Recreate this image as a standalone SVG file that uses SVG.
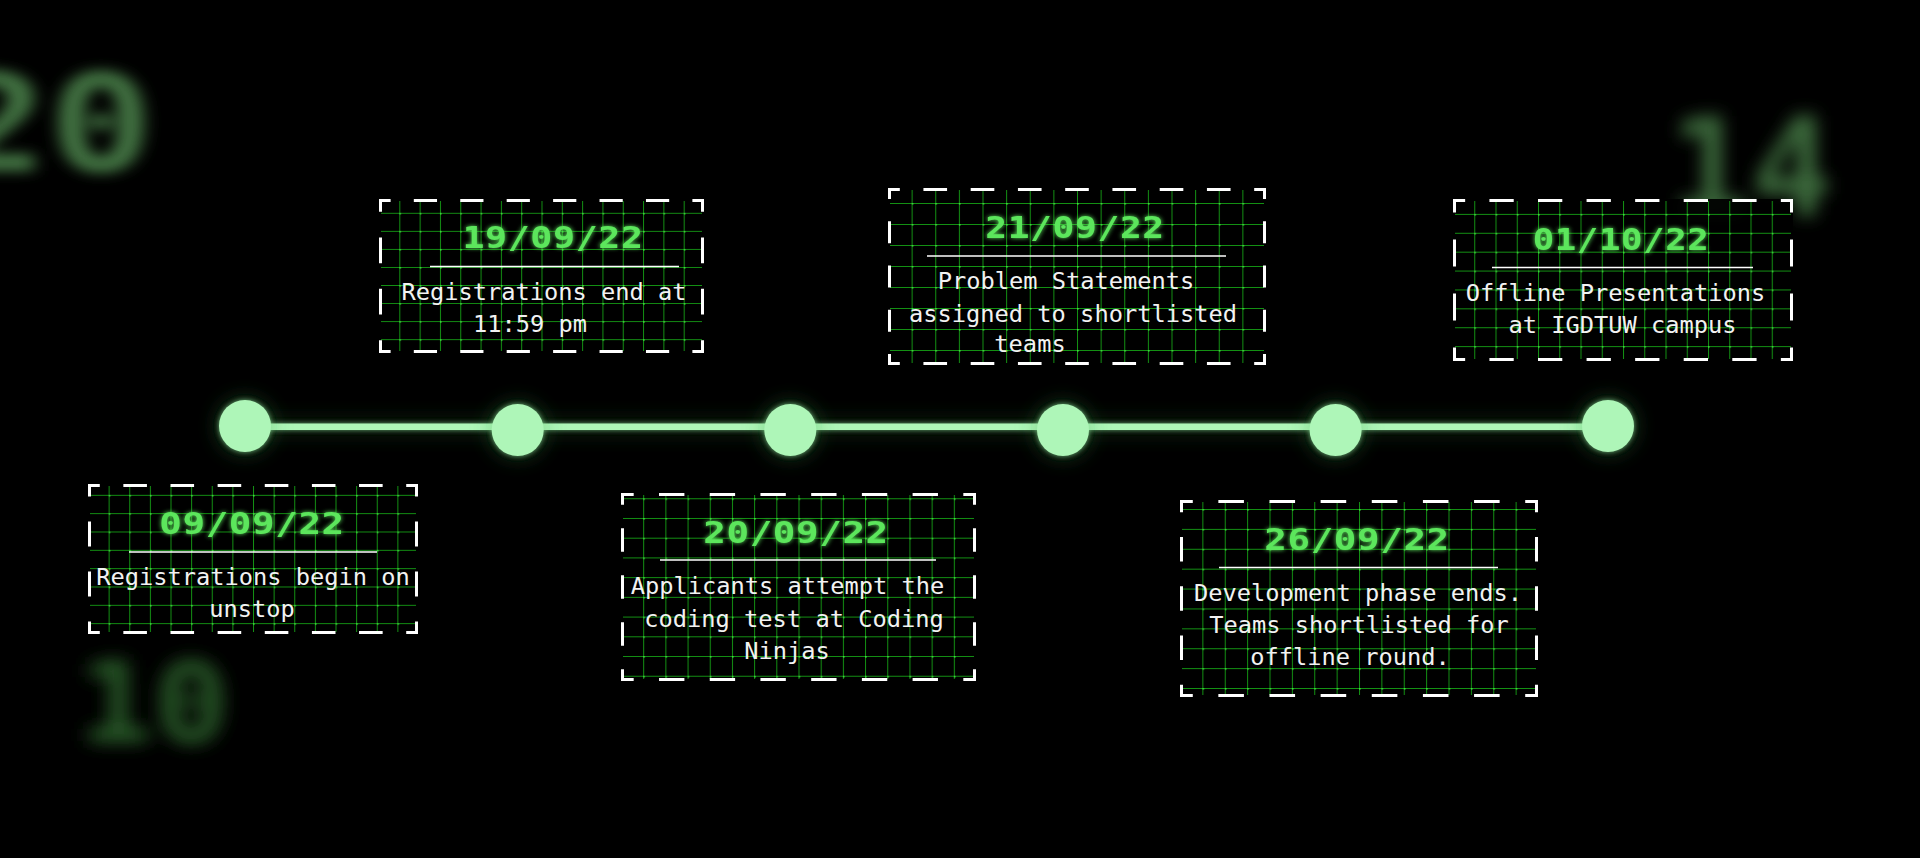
<svg xmlns="http://www.w3.org/2000/svg" width="1920" height="858" viewBox="0 0 1920 858">
  <style>
    .card-bg { fill: #000; fill-opacity: 0.93; }
    .edge { stroke: #fff; stroke-width: 3; fill: none; }
    .date { font-family: "DejaVu Sans Mono", "Liberation Mono", monospace; font-weight: bold; font-size: 30px; fill: #5ce65c; text-anchor: middle; letter-spacing: 0.5px; }
    .body { font-family: "DejaVu Sans Mono", "Liberation Mono", monospace; font-size: 23.7px; fill: #f2f2f2; text-anchor: middle; }
    .rule { stroke: #fff; stroke-width: 1.4; }
    .dot { fill: #aef6b8; }
    .track { stroke: #aef6b8; stroke-width: 6.5; }
    .grid-line { stroke: #139013; stroke-width: 1; fill: none; }
    .grid-knot { fill: #3ee03e; }
    .ghost { font-family: "DejaVu Sans Mono", monospace; font-weight: bold; }
  </style>
  <defs>
    <filter id="haze" x="-30%" y="-30%" width="160%" height="160%">
      <feGaussianBlur stdDeviation="6.5"/>
    </filter>
    <filter id="hazeWide" x="-30%" y="-30%" width="160%" height="160%">
      <feGaussianBlur stdDeviation="8.5"/>
    </filter>
    <filter id="dateGlow" x="-20%" y="-50%" width="140%" height="200%">
      <feGaussianBlur in="SourceGraphic" stdDeviation="2.2" result="b"/>
      <feMerge><feMergeNode in="b"/><feMergeNode in="SourceGraphic"/></feMerge>
    </filter>
    <filter id="nodeGlow" filterUnits="userSpaceOnUse" x="0" y="0" width="1920" height="858">
      <feGaussianBlur in="SourceAlpha" stdDeviation="11" result="wide"/>
      <feFlood flood-color="#3f9f4a" flood-opacity="0.45" result="c1"/>
      <feComposite in="c1" in2="wide" operator="in" result="halo"/>
      <feGaussianBlur in="SourceAlpha" stdDeviation="2.5" result="tight"/>
      <feFlood flood-color="#8ee89a" flood-opacity="0.7" result="c2"/>
      <feComposite in="c2" in2="tight" operator="in" result="rim"/>
      <feMerge><feMergeNode in="halo"/><feMergeNode in="rim"/><feMergeNode in="SourceGraphic"/></feMerge>
    </filter>

    <!-- card grids: 16 columns, cell aspect 1.125, centred vertically -->
    <pattern id="grid1" patternUnits="userSpaceOnUse" x="88" y="549.833" width="20.625" height="18.333">
      <path class="grid-line" d="M0 0.5H20.625M0.5 0V18.333"/><rect class="grid-knot" width="1.6" height="1.6"/>
    </pattern>
    <pattern id="grid2" patternUnits="userSpaceOnUse" x="379" y="266.97" width="20.3125" height="18.056">
      <path class="grid-line" d="M0 0.5H20.3125M0.5 0V18.056"/><rect class="grid-knot" width="1.6" height="1.6"/>
    </pattern>
    <pattern id="grid3" patternUnits="userSpaceOnUse" x="621" y="577.14" width="22.1875" height="19.722">
      <path class="grid-line" d="M0 0.5H22.1875M0.5 0V19.722"/><rect class="grid-knot" width="1.6" height="1.6"/>
    </pattern>
    <pattern id="grid4" patternUnits="userSpaceOnUse" x="888" y="266" width="23.625" height="21">
      <path class="grid-line" d="M0 0.5H23.625M0.5 0V21"/><rect class="grid-knot" width="1.6" height="1.6"/>
    </pattern>
    <pattern id="grid5" patternUnits="userSpaceOnUse" x="1180" y="588.56" width="22.375" height="19.889">
      <path class="grid-line" d="M0 0.5H22.375M0.5 0V19.889"/><rect class="grid-knot" width="1.6" height="1.6"/>
    </pattern>
    <pattern id="grid6" patternUnits="userSpaceOnUse" x="1453" y="270.56" width="21.25" height="18.889">
      <path class="grid-line" d="M0 0.5H21.25M0.5 0V18.889"/><rect class="grid-knot" width="1.6" height="1.6"/>
    </pattern>
  </defs>

  <rect width="1920" height="858" fill="#000"/>

  <!-- out-of-focus background numerals -->
  <g id="backdrop">
    <text class="ghost" transform="translate(154 171) scale(1.3 1)" font-size="135" text-anchor="end" fill="#4f8a4f" fill-opacity="0.85" filter="url(#haze)">20</text>
    <text class="ghost" x="1668" y="216" font-size="137" fill="#4a824a" fill-opacity="0.8" filter="url(#hazeWide)">14</text>
    <text class="ghost" transform="translate(78 742) scale(1.12 1)" font-size="112" fill="#2f652f" fill-opacity="0.9" filter="url(#hazeWide)">10</text>
  </g>

  <!-- timeline track -->
  <g id="connectors" filter="url(#nodeGlow)">
    <line class="track" x1="245" y1="426.7" x2="517.7" y2="426.7"/>
    <line class="track" x1="517.7" y1="426.7" x2="790.3" y2="426.7"/>
    <line class="track" x1="790.3" y1="426.7" x2="1063" y2="426.7"/>
    <line class="track" x1="1063" y1="426.7" x2="1335.6" y2="426.7"/>
    <line class="track" x1="1335.6" y1="426.7" x2="1608" y2="426.7"/>
  </g>

  <!-- milestone dots -->
  <g id="dots" filter="url(#nodeGlow)">
    <circle id="dot-1" class="dot" cx="245" cy="426" r="26"/>
    <circle id="dot-2" class="dot" cx="517.7" cy="430" r="26"/>
    <circle id="dot-3" class="dot" cx="790.3" cy="430" r="26"/>
    <circle id="dot-4" class="dot" cx="1063" cy="430" r="26"/>
    <circle id="dot-5" class="dot" cx="1335.6" cy="430" r="26"/>
    <circle id="dot-6" class="dot" cx="1608" cy="426" r="26"/>
  </g>

  <!-- 09/09/22 -->
  <g id="card-1">
    <rect class="card-bg" x="88" y="484" width="330" height="150"/>
    <rect x="90" y="486" width="326" height="146" fill="url(#grid1)"/>
    <line class="edge" x1="88" y1="485.5" x2="418" y2="485.5" stroke-dasharray="23.571 23.571" stroke-dashoffset="11.786"/>
    <line class="edge" x1="88" y1="632.5" x2="418" y2="632.5" stroke-dasharray="23.571 23.571" stroke-dashoffset="11.786"/>
    <line class="edge" x1="89.5" y1="484" x2="89.5" y2="634" stroke-dasharray="25 25" stroke-dashoffset="12.5"/>
    <line class="edge" x1="416.5" y1="484" x2="416.5" y2="634" stroke-dasharray="25 25" stroke-dashoffset="12.5"/>
    <text class="date" transform="translate(252 534) scale(1.25 1)" filter="url(#dateGlow)">09/09/22</text>
    <line class="rule" x1="129" y1="552" x2="377" y2="552"/>
    <text class="body" x="253" y="585">Registrations begin on</text>
    <text class="body" x="252" y="617">unstop</text>
  </g>

  <!-- 19/09/22 -->
  <g id="card-2">
    <rect class="card-bg" x="379" y="199" width="325" height="154"/>
    <rect x="381" y="201" width="321" height="150" fill="url(#grid2)"/>
    <line class="edge" x1="379" y1="200.5" x2="704" y2="200.5" stroke-dasharray="23.214 23.214" stroke-dashoffset="11.607"/>
    <line class="edge" x1="379" y1="351.5" x2="704" y2="351.5" stroke-dasharray="23.214 23.214" stroke-dashoffset="11.607"/>
    <line class="edge" x1="380.5" y1="199" x2="380.5" y2="353" stroke-dasharray="25.667 25.667" stroke-dashoffset="12.833"/>
    <line class="edge" x1="702.5" y1="199" x2="702.5" y2="353" stroke-dasharray="25.667 25.667" stroke-dashoffset="12.833"/>
    <text class="date" transform="translate(553 248) scale(1.22 1)" filter="url(#dateGlow)">19/09/22</text>
    <line class="rule" x1="430" y1="266.5" x2="679" y2="266.5"/>
    <text class="body" x="544" y="300">Registrations end at</text>
    <text class="body" x="530" y="332">11:59 pm</text>
  </g>

  <!-- 20/09/22 -->
  <g id="card-3">
    <rect class="card-bg" x="621" y="493" width="355" height="188"/>
    <rect x="623" y="495" width="351" height="184" fill="url(#grid3)"/>
    <line class="edge" x1="621" y1="494.5" x2="976" y2="494.5" stroke-dasharray="25.357 25.357" stroke-dashoffset="12.679"/>
    <line class="edge" x1="621" y1="679.5" x2="976" y2="679.5" stroke-dasharray="25.357 25.357" stroke-dashoffset="12.679"/>
    <line class="edge" x1="622.5" y1="493" x2="622.5" y2="681" stroke-dasharray="23.5 23.5" stroke-dashoffset="11.75"/>
    <line class="edge" x1="974.5" y1="493" x2="974.5" y2="681" stroke-dasharray="23.5 23.5" stroke-dashoffset="11.75"/>
    <text class="date" transform="translate(796 543) scale(1.25 1)" filter="url(#dateGlow)">20/09/22</text>
    <line class="rule" x1="660" y1="560" x2="936" y2="560"/>
    <text class="body" x="787.5" y="594">Applicants attempt the</text>
    <text class="body" x="794" y="627">coding test at Coding</text>
    <text class="body" x="787" y="658.5">Ninjas</text>
  </g>

  <!-- 21/09/22 -->
  <g id="card-4">
    <rect class="card-bg" x="888" y="188" width="378" height="177"/>
    <rect x="890" y="190" width="374" height="173" fill="url(#grid4)"/>
    <line class="edge" x1="888" y1="189.5" x2="1266" y2="189.5" stroke-dasharray="23.625 23.625" stroke-dashoffset="11.8125"/>
    <line class="edge" x1="888" y1="363.5" x2="1266" y2="363.5" stroke-dasharray="23.625 23.625" stroke-dashoffset="11.8125"/>
    <line class="edge" x1="889.5" y1="188" x2="889.5" y2="365" stroke-dasharray="22.125 22.125" stroke-dashoffset="11.0625"/>
    <line class="edge" x1="1264.5" y1="188" x2="1264.5" y2="365" stroke-dasharray="22.125 22.125" stroke-dashoffset="11.0625"/>
    <text class="date" transform="translate(1075 238) scale(1.21 1)" filter="url(#dateGlow)">21/09/22</text>
    <line class="rule" x1="927" y1="256" x2="1226" y2="256"/>
    <text class="body" x="1066" y="289">Problem Statements</text>
    <text class="body" x="1073" y="321.5">assigned to shortlisted</text>
    <text class="body" x="1030" y="352">teams</text>
  </g>

  <!-- 26/09/22 -->
  <g id="card-5">
    <rect class="card-bg" x="1180" y="500" width="358" height="197"/>
    <rect x="1182" y="502" width="354" height="193" fill="url(#grid5)"/>
    <line class="edge" x1="1180" y1="501.5" x2="1538" y2="501.5" stroke-dasharray="25.571 25.571" stroke-dashoffset="12.786"/>
    <line class="edge" x1="1180" y1="695.5" x2="1538" y2="695.5" stroke-dasharray="25.571 25.571" stroke-dashoffset="12.786"/>
    <line class="edge" x1="1181.5" y1="500" x2="1181.5" y2="697" stroke-dasharray="24.625 24.625" stroke-dashoffset="12.3125"/>
    <line class="edge" x1="1536.5" y1="500" x2="1536.5" y2="697" stroke-dasharray="24.625 24.625" stroke-dashoffset="12.3125"/>
    <text class="date" transform="translate(1357 550) scale(1.25 1)" filter="url(#dateGlow)">26/09/22</text>
    <line class="rule" x1="1219" y1="567.5" x2="1498" y2="567.5"/>
    <text class="body" x="1358" y="601">Development phase ends.</text>
    <text class="body" x="1359" y="633">Teams shortlisted for</text>
    <text class="body" x="1350" y="665">offline round.</text>
  </g>

  <!-- 01/10/22 -->
  <g id="card-6">
    <rect class="card-bg" x="1453" y="199" width="340" height="162"/>
    <rect x="1455" y="201" width="336" height="158" fill="url(#grid6)"/>
    <line class="edge" x1="1453" y1="200.5" x2="1793" y2="200.5" stroke-dasharray="24.286 24.286" stroke-dashoffset="12.143"/>
    <line class="edge" x1="1453" y1="359.5" x2="1793" y2="359.5" stroke-dasharray="24.286 24.286" stroke-dashoffset="12.143"/>
    <line class="edge" x1="1454.5" y1="199" x2="1454.5" y2="361" stroke-dasharray="27 27" stroke-dashoffset="13.5"/>
    <line class="edge" x1="1791.5" y1="199" x2="1791.5" y2="361" stroke-dasharray="27 27" stroke-dashoffset="13.5"/>
    <text class="date" transform="translate(1621 250) scale(1.19 1)" filter="url(#dateGlow)">01/10/22</text>
    <line class="rule" x1="1492" y1="267.5" x2="1753" y2="267.5"/>
    <text class="body" x="1615.5" y="300.7">Offline Presentations</text>
    <text class="body" x="1622.5" y="332.7">at IGDTUW campus</text>
  </g>
</svg>
